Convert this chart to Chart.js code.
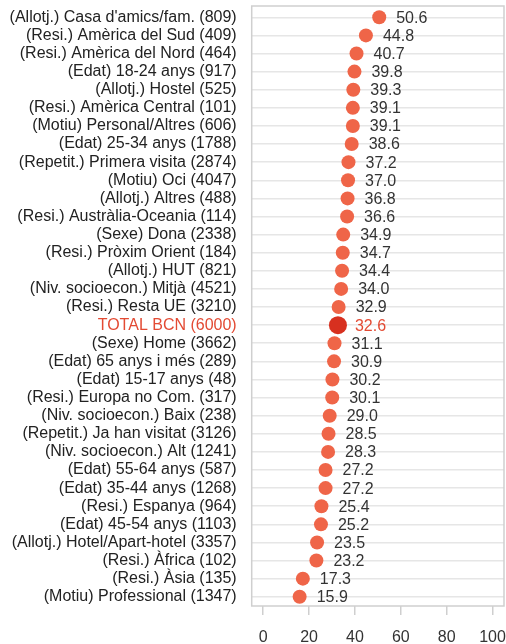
<!DOCTYPE html>
<html><head><meta charset="utf-8">
<script src="https://cdn.jsdelivr.net/npm/chart.js@4/dist/chart.umd.min.js"></script>
<style>html,body{margin:0;padding:0;background:#fff;overflow:hidden}canvas{display:block}</style>
</head><body><canvas id="c" width="506" height="644"></canvas>
<script>
const categories = [
"(Allotj.) Casa d'amics/fam. (809)","(Resi.) Amèrica del Sud (409)","(Resi.) Amèrica del Nord (464)",
"(Edat) 18-24 anys (917)","(Allotj.) Hostel (525)","(Resi.) Amèrica Central (101)",
"(Motiu) Personal/Altres (606)","(Edat) 25-34 anys (1788)","(Repetit.) Primera visita (2874)",
"(Motiu) Oci (4047)","(Allotj.) Altres (488)","(Resi.) Austràlia-Oceania (114)",
"(Sexe) Dona (2338)","(Resi.) Pròxim Orient (184)","(Allotj.) HUT (821)",
"(Niv. socioecon.) Mitjà (4521)","(Resi.) Resta UE (3210)","TOTAL BCN (6000)",
"(Sexe) Home (3662)","(Edat) 65 anys i més (289)","(Edat) 15-17 anys (48)",
"(Resi.) Europa no Com. (317)","(Niv. socioecon.) Baix (238)","(Repetit.) Ja han visitat (3126)",
"(Niv. socioecon.) Alt (1241)","(Edat) 55-64 anys (587)","(Edat) 35-44 anys (1268)",
"(Resi.) Espanya (964)","(Edat) 45-54 anys (1103)","(Allotj.) Hotel/Apart-hotel (3357)",
"(Resi.) Àfrica (102)","(Resi.) Àsia (135)","(Motiu) Professional (1347)"];
const values = [50.6,44.8,40.7,39.8,39.3,39.1,39.1,38.6,37.2,37.0,36.8,36.6,34.9,34.7,34.4,34.0,32.9,32.6,
31.1,30.9,30.2,30.1,29.0,28.5,28.3,27.2,27.2,25.4,25.2,23.5,23.2,17.3,15.9];
const xTicks = [0,20,40,60,80,100];
const totalLabel = "TOTAL BCN (6000)";

const isTotal = i => categories[i] === totalLabel;
const FONT = "'Liberation Sans', Arial, sans-serif";
const points = values.map((v,i)=>({x:v, y:i}));

const boxPlugin = {
  id:'box',
  afterDraw(chart){
    const {ctx, chartArea:a} = chart;
    ctx.save();
    ctx.strokeStyle = '#cfcfcf'; ctx.lineWidth = 1.5;
    ctx.strokeRect(a.left, a.top, a.right-a.left, a.bottom-a.top);
    ctx.restore();
  }
};
const labelPlugin = {
  id:'vlabels',
  afterDatasetsDraw(chart){
    const {ctx} = chart;
    const meta = chart.getDatasetMeta(0);
    ctx.save();
    ctx.font = '16px ' + FONT;
    ctx.textBaseline = 'middle';
    ctx.textAlign = 'left';
    meta.data.forEach((pt,i)=>{
      ctx.fillStyle = isTotal(i) ? '#e34a33' : '#333333';
      ctx.fillText(values[i].toFixed(1), pt.x + 17, pt.y + 1);
    });
    ctx.restore();
  }
};

new Chart(document.getElementById('c'), {
  type:'scatter',
  data:{ datasets:[{
    data:points,
    pointRadius: c => isTotal(c.dataIndex) ? 9 : 7,
    pointHoverRadius: c => isTotal(c.dataIndex) ? 9 : 7,
    pointBackgroundColor: c => isTotal(c.dataIndex) ? '#d7301f' : '#ef6548',
    pointBorderWidth:0, pointBorderColor:'rgba(0,0,0,0)'
  }]},
  options:{
    responsive:false, animation:false,
    layout:{autoPadding:false, padding:{top:6,right:2,left:0,bottom:0}},
    plugins:{legend:{display:false}, tooltip:{enabled:false}},
    scales:{
      x:{ type:'linear', min:-5, max:105,
        afterBuildTicks: ax => { ax.ticks = xTicks.map(v=>({value:v})); },
        afterFit: ax => { ax.height = 38; ax.paddingLeft = 0; ax.paddingRight = 0; },
        grid:{ drawOnChartArea:false, drawTicks:true, tickLength:9, color:'#cfcfcf', lineWidth:1.5 },
        border:{display:false},
        ticks:{ font:{family:FONT,size:16,lineHeight:2.8}, color:'#333333', padding:0, maxRotation:0 }
      },
      y:{ type:'linear', reverse:true, min:-0.624, max:32.51,
        afterBuildTicks: ax => { ax.ticks = categories.map((c,i)=>({value:i})); },
        afterFit: ax => { ax.width = 251.7; ax.paddingTop = 0; ax.paddingBottom = 0; },
        grid:{ drawTicks:false, color:'#e6e6e6', lineWidth:1.5 },
        border:{display:false},
        ticks:{ font:{family:FONT,size:16}, padding:15, autoSkip:false,
          callback: v => categories[v],
          color: c => isTotal(c.index) ? '#e34a33' : '#222222' }
      }
    }
  },
  plugins:[boxPlugin,labelPlugin]
});
</script></body></html>
